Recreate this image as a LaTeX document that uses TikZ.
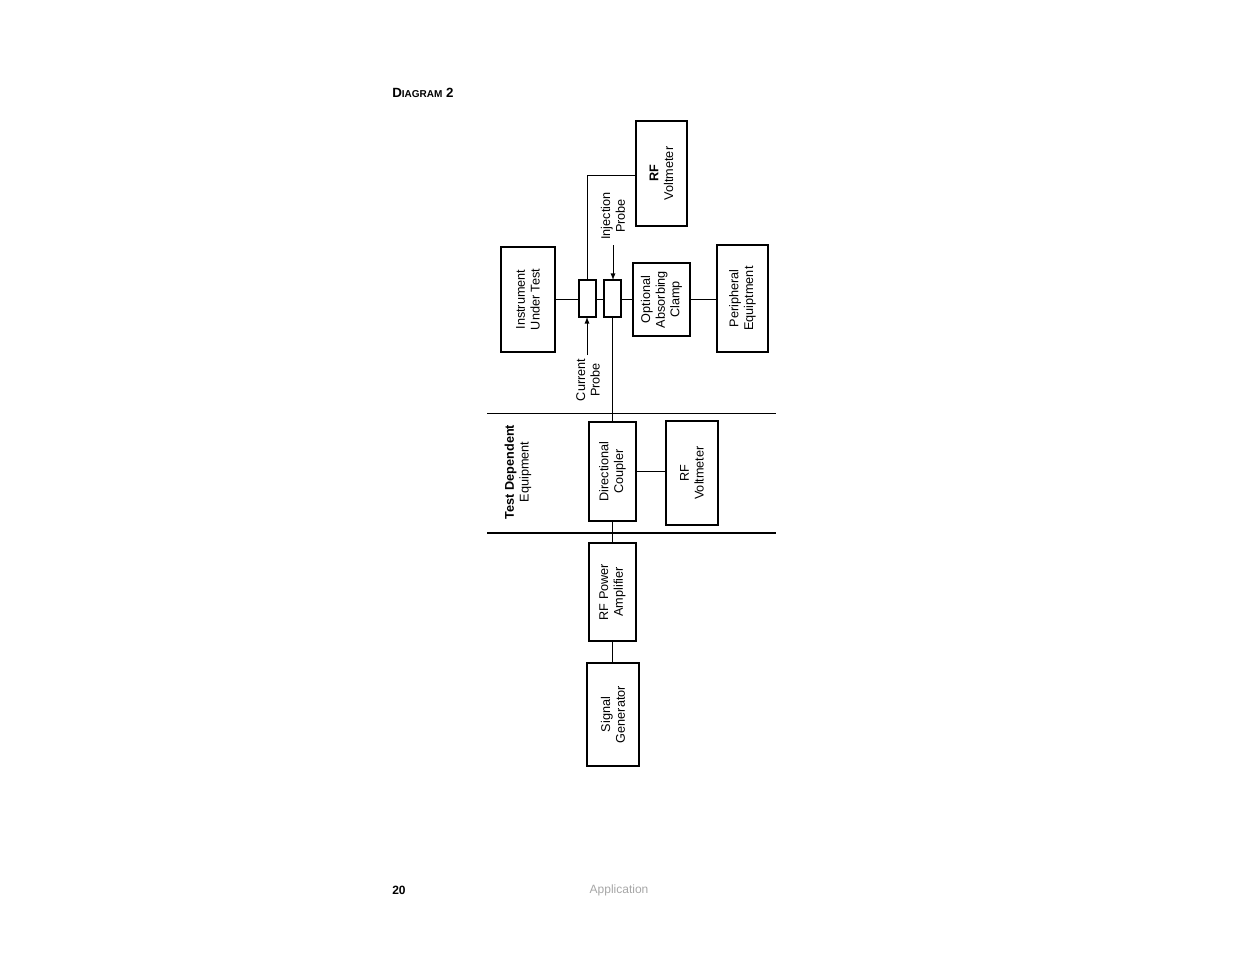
\documentclass[tikz,border=0pt]{standalone}
\usepackage{fontspec}
\setmainfont{Liberation Sans}
\begin{document}
\begin{tikzpicture}[x=0.75pt,y=-0.75pt,
  bx/.style={draw,line width=0.8pt},
  lbl/.style={rotate=90,align=center,font=\fontsize{9.5}{11}\selectfont,inner sep=0},
  ln/.style={line width=0.7pt}]
\useasboundingbox (0,0) rectangle (1235,954);
% boxes
\draw[bx,line width=1.6pt] (501,247) rectangle (555,352); \node[lbl] (iut) at (528,299.5) {Instrument\\Under Test};
\draw[bx] (579,280) rectangle (596,317); \coordinate (cp) at (587.5,298.5);
\draw[bx] (604,280) rectangle (621,317); \coordinate (ip) at (612.5,298.5);
\draw[bx] (633,263) rectangle (690,336); \node[lbl] (oac) at (661.5,299.5) {Optional\\Absorbing\\Clamp};
\draw[bx] (717,245) rectangle (768,352); \node[lbl] (pe) at (742.5,298.5) {Peripheral\\Equiptment};
\draw[bx] (636,121) rectangle (687,226); \draw[line width=1.8pt] (636,121)--(687,121);
\node[lbl] (rfv1) at (661.5,173.5) {\textbf{RF}\\Voltmeter};
\draw[bx] (589,422) rectangle (636,521); \node[lbl] (dc) at (612.5,471.5) {Directional\\Coupler};
\draw[bx] (666,421) rectangle (718,525); \node[lbl] (rfv2) at (692,473) {RF\\Voltmeter};
\draw[bx] (589,543) rectangle (636,641); \node[lbl] (amp) at (612.5,592) {RF Power\\Amplifier};
\draw[bx] (587,663) rectangle (639,766); \draw[line width=1.8pt] (587,663)--(587,766);
\node[lbl] (sg) at (613,714.5) {Signal\\Generator};
% connections
\draw[ln] (555,299)--(579,299) (596,299)--(604,299) (621,299)--(633,299) (690,299)--(717,299);
\draw[ln] (587,280)--(587,175)--(636,175);
\draw[ln] (612,317)--(612,422);
\draw[ln] (636,471)--(666,471);
\draw[ln] (612,521)--(612,543);
\draw[ln] (612,641)--(612,663);
% arrows
\draw[ln,-latex] (613,245)--(613,280);
\node[lbl] (injl) at (613,216) {Injection\\Probe};
\draw[ln,-latex] (587,355)--(587,317);
\node[lbl] (curl) at (588,380) {Current\\Probe};
% separators
\draw[line width=0.7pt] (487,413)--(776,413);
\draw[line width=1.5pt] (487,533)--(776,533);
\node[lbl] (tde) at (518,472) {\textbf{Test Dependent}\\Equipment};
% page texts
\node[anchor=west,inner sep=0,font=\fontsize{10}{12}\selectfont\bfseries] (title) at (392,93) {D{\fontsize{7.5}{9}\selectfont IAGRAM} 2};
\node[anchor=west,inner sep=0,font=\fontsize{9}{11}\selectfont\bfseries] (pg) at (392,890) {20};
\node[inner sep=0,font=\fontsize{9}{11}\selectfont,text=gray!70] (app) at (619,890) {Application};
\end{tikzpicture}
\end{document}
